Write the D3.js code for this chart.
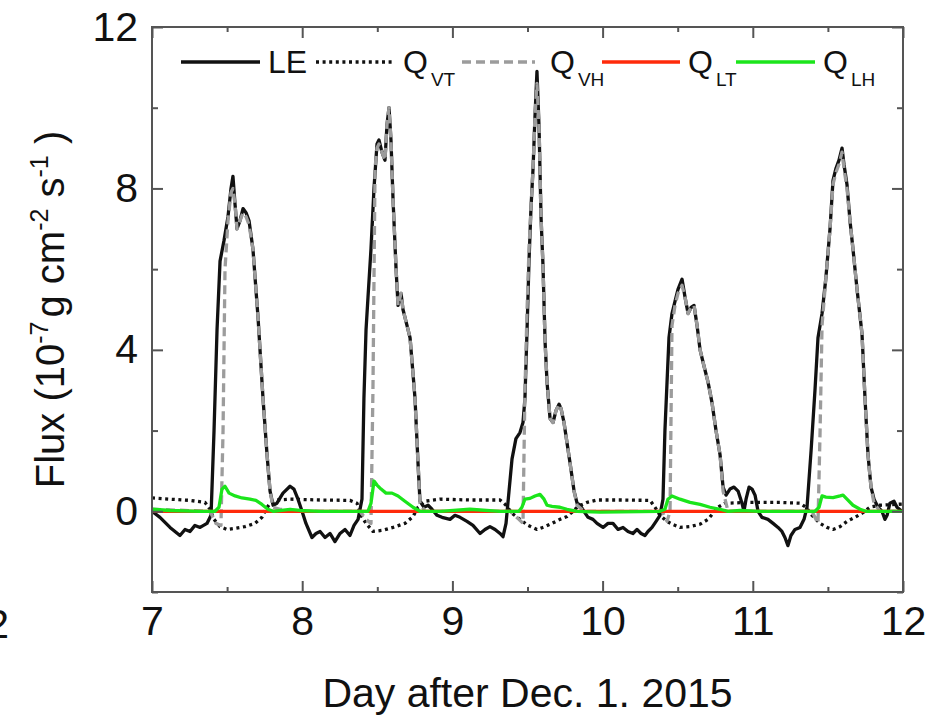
<!DOCTYPE html>
<html>
<head>
<meta charset="utf-8">
<script src="https://cdn.jsdelivr.net/npm/d3@7"></script>
<style>
body{margin:0;background:#fff}
svg{display:block;font-family:"Liberation Sans",Arial,sans-serif}
</style>
</head>
<body>
<div id="chart"></div>
<script>
// tick values
var xMajor = [7,8,9,10,11,12]
var xMinor = [7.5,8.5,9.5,10.5,11.5]
var yMajor = [0,4,8,12]
var yMinor = [-2,2,6,10]

// series: [day, flux]
var LE = [[7.000,0.0],[7.053,-0.15],[7.120,-0.4],[7.186,-0.6],[7.220,-0.45],[7.253,-0.5],[7.286,-0.35],[7.320,-0.4],
 [7.366,-0.3],[7.393,-0.1],[7.413,2.0],[7.433,4.5],[7.453,6.2],[7.479,6.7],[7.506,7.3],[7.526,8.0],[7.539,8.3],
 [7.553,7.6],[7.566,7.0],[7.586,7.2],[7.606,7.5],[7.626,7.4],[7.646,7.2],[7.672,6.5],[7.706,4.8],[7.739,2.8],
 [7.766,1.4],[7.786,0.5],[7.806,0.15],[7.832,0.2],[7.872,0.45],[7.919,0.62],[7.945,0.55],[7.972,0.3],[7.999,0.0],
 [8.025,-0.3],[8.065,-0.65],[8.092,-0.55],[8.119,-0.5],[8.152,-0.65],[8.185,-0.55],[8.218,-0.75],[8.252,-0.55],
 [8.285,-0.45],[8.318,-0.6],[8.345,-0.35],[8.372,-0.2],[8.398,0.3],[8.411,2.8],[8.425,4.5],[8.438,5.3],[8.458,6.5],
 [8.478,8.0],[8.498,9.1],[8.511,9.2],[8.531,8.9],[8.551,8.7],[8.565,9.6],[8.578,10.0],[8.591,9.2],[8.605,7.7],
 [8.625,6.0],[8.638,5.1],[8.658,5.4],[8.671,5.0],[8.698,4.6],[8.718,4.3],[8.738,3.4],[8.751,2.8],[8.771,1.2],
 [8.784,0.25],[8.811,0.1],[8.838,0.15],[8.864,0.05],[8.898,-0.1],[8.931,-0.15],[8.984,-0.2],[9.017,-0.1],
 [9.051,-0.15],[9.097,-0.25],[9.137,-0.35],[9.184,-0.55],[9.217,-0.45],[9.250,-0.38],[9.284,-0.45],[9.317,-0.55],
 [9.337,-0.63],[9.357,-0.3],[9.377,0.5],[9.397,1.3],[9.423,1.8],[9.450,1.95],[9.470,2.2],[9.483,2.8],[9.497,4.5],
 [9.510,6.2],[9.523,7.5],[9.537,8.5],[9.550,9.8],[9.563,10.9],[9.577,9.5],[9.590,7.3],[9.603,6.1],[9.617,4.2],
 [9.630,3.2],[9.650,2.3],[9.670,2.2],[9.690,2.5],[9.710,2.65],[9.723,2.55],[9.743,2.2],[9.763,1.7],[9.783,1.2],
 [9.810,0.5],[9.830,0.2],[9.850,0.15],[9.876,0.0],[9.903,-0.15],[9.936,-0.2],[9.963,-0.3],[10.003,-0.4],
 [10.036,-0.3],[10.069,-0.3],[10.103,-0.45],[10.136,-0.4],[10.169,-0.5],[10.202,-0.55],[10.229,-0.45],
 [10.256,-0.55],[10.282,-0.6],[10.302,-0.5],[10.329,-0.4],[10.356,-0.25],[10.382,-0.1],[10.402,0.3],[10.415,2.0],
 [10.429,3.2],[10.442,4.3],[10.462,4.9],[10.482,5.2],[10.502,5.5],[10.529,5.75],[10.549,5.3],[10.569,4.9],
 [10.589,5.05],[10.609,5.1],[10.629,4.6],[10.649,4.0],[10.675,3.6],[10.702,3.2],[10.728,2.7],[10.755,2.0],
 [10.782,1.4],[10.802,0.6],[10.822,0.4],[10.848,0.55],[10.875,0.6],[10.902,0.5],[10.928,0.2],[10.941,0.0],
 [10.955,0.3],[10.975,0.6],[10.995,0.55],[11.015,0.4],[11.035,0.0],[11.061,-0.15],[11.101,-0.2],[11.135,-0.3],
 [11.168,-0.4],[11.194,-0.5],[11.214,-0.65],[11.234,-0.85],[11.254,-0.6],[11.281,-0.45],[11.314,-0.4],
 [11.341,-0.2],[11.361,0.1],[11.388,1.5],[11.414,3.0],[11.434,4.3],[11.461,4.9],[11.487,5.8],[11.514,7.0],
 [11.534,8.2],[11.554,8.5],[11.574,8.7],[11.594,9.0],[11.607,8.6],[11.627,8.1],[11.647,7.2],[11.667,6.5],
 [11.694,5.5],[11.727,4.4],[11.747,2.8],[11.767,1.4],[11.787,0.6],[11.807,0.3],[11.834,0.1],[11.860,0.0],
 [11.880,-0.2],[11.894,-0.1],[11.913,0.2],[11.940,0.25],[11.960,0.1],[11.993,0.0]]

var QVT = [[7.000,0.33],[7.120,0.3],[7.253,0.27],[7.353,0.22],[7.386,0.05],[7.413,-0.2],[7.453,-0.38],[7.499,-0.45],
 [7.553,-0.42],[7.619,-0.38],[7.686,-0.3],[7.732,-0.15],[7.759,0.05],[7.786,0.2],[7.826,0.28],[7.919,0.3],
 [8.119,0.28],[8.318,0.27],[8.365,0.2],[8.391,-0.1],[8.425,-0.3],[8.471,-0.5],[8.538,-0.47],[8.605,-0.4],
 [8.684,-0.3],[8.738,-0.13],[8.771,0.1],[8.818,0.25],[8.917,0.3],[9.117,0.28],[9.317,0.28],[9.357,0.15],
 [9.397,-0.05],[9.450,-0.2],[9.503,-0.35],[9.563,-0.45],[9.617,-0.38],[9.663,-0.3],[9.716,-0.2],[9.763,-0.13],
 [9.803,0.0],[9.836,0.12],[9.896,0.22],[9.963,0.28],[10.116,0.28],[10.316,0.27],[10.349,0.1],[10.382,-0.1],
 [10.429,-0.25],[10.469,-0.33],[10.515,-0.4],[10.582,-0.38],[10.649,-0.32],[10.702,-0.2],[10.735,-0.05],
 [10.768,0.1],[10.815,0.2],[10.981,0.22],[11.181,0.22],[11.314,0.2],[11.354,0.1],[11.394,-0.1],[11.448,-0.3],
 [11.494,-0.4],[11.534,-0.45],[11.581,-0.38],[11.627,-0.25],[11.680,-0.15],[11.727,-0.05],[11.780,0.1],
 [11.847,0.15],[12.000,0.18]]

var QVH = [[7.000,0.05],[7.386,0.0],[7.426,-0.3],[7.459,-0.35],[7.473,2.0],[7.486,6.0],[7.506,7.2],[7.526,7.9],
 [7.539,8.0],[7.553,7.6],[7.566,7.0],[7.586,7.2],[7.606,7.4],[7.626,7.3],[7.646,7.1],[7.672,6.5],[7.706,4.8],
 [7.739,2.8],[7.766,1.4],[7.786,0.5],[7.806,0.1],[7.852,0.05],[7.985,0.0],[8.385,0.0],[8.425,-0.2],[8.458,-0.3],
 [8.471,3.0],[8.485,8.5],[8.498,9.0],[8.511,9.1],[8.531,8.9],[8.551,8.7],[8.565,9.6],[8.578,10.0],[8.591,9.2],
 [8.605,7.7],[8.625,6.0],[8.638,5.1],[8.658,5.4],[8.671,5.0],[8.698,4.6],[8.718,4.3],[8.738,3.4],[8.751,2.8],
 [8.771,1.2],[8.784,0.2],[8.817,0.0],[9.384,0.0],[9.443,-0.2],[9.470,-0.3],[9.483,3.0],[9.497,5.0],[9.510,6.5],
 [9.523,7.5],[9.537,8.5],[9.550,9.8],[9.563,10.6],[9.577,9.5],[9.590,7.3],[9.603,6.1],[9.617,4.2],[9.630,3.2],
 [9.650,2.3],[9.670,2.2],[9.690,2.5],[9.710,2.65],[9.723,2.55],[9.743,2.2],[9.763,1.7],[9.783,1.2],[9.810,0.5],
 [9.830,0.15],[9.876,0.0],[10.396,0.0],[10.429,-0.25],[10.449,0.0],[10.462,4.6],[10.482,5.1],[10.502,5.4],
 [10.529,5.6],[10.549,5.3],[10.569,4.9],[10.589,5.05],[10.609,5.1],[10.629,4.6],[10.649,4.0],[10.675,3.6],
 [10.702,3.2],[10.728,2.7],[10.755,2.0],[10.782,1.4],[10.802,0.5],[10.835,0.0],[11.394,0.0],[11.434,-0.3],
 [11.448,2.0],[11.461,4.6],[11.487,5.8],[11.514,7.0],[11.534,8.1],[11.554,8.4],[11.574,8.6],[11.594,8.9],
 [11.607,8.5],[11.627,8.0],[11.647,7.2],[11.667,6.5],[11.694,5.5],[11.727,4.4],[11.747,2.8],[11.767,1.4],
 [11.787,0.6],[11.807,0.2],[11.847,0.0],[12.000,0.0]]

var QLT = [[7.000,0.0],[12.000,0.0]]

var QLH = [[7.000,0.05],[7.120,0.02],[7.320,0.0],[7.419,0.0],[7.446,0.1],[7.466,0.55],[7.486,0.62],[7.513,0.45],
 [7.553,0.38],[7.599,0.33],[7.652,0.3],[7.692,0.27],[7.732,0.17],[7.772,0.05],[7.806,0.0],[7.919,0.05],
 [7.985,0.02],[8.119,0.0],[8.438,0.0],[8.458,0.2],[8.478,0.75],[8.498,0.65],[8.525,0.55],[8.558,0.45],
 [8.598,0.45],[8.638,0.38],[8.684,0.25],[8.738,0.1],[8.784,0.0],[8.917,0.0],[9.117,0.05],[9.317,0.0],
 [9.443,0.0],[9.463,0.1],[9.483,0.3],[9.517,0.32],[9.550,0.38],[9.583,0.42],[9.610,0.3],[9.630,0.15],
 [9.663,0.12],[9.716,0.1],[9.763,0.05],[9.830,0.0],[9.983,-0.02],[10.382,0.0],[10.415,0.05],[10.435,0.3],
 [10.462,0.38],[10.515,0.3],[10.582,0.22],[10.649,0.17],[10.715,0.1],[10.782,0.05],[10.835,0.0],[10.915,0.02],
 [11.048,0.0],[11.414,0.0],[11.441,0.1],[11.461,0.38],[11.487,0.35],[11.534,0.34],[11.581,0.38],[11.601,0.4],
 [11.627,0.3],[11.667,0.15],[11.714,0.05],[11.754,0.0],[12.000,0.0]]

var seriesNames = ["LE","QVT","QVH","QLT","QLH"]

var width = 936, height = 718
// note: "top" is taken by window.top, so plot edges get a prefix
var plotL = 152, plotR = 903, plotT = 27, plotB = 592

var svg = d3.select("#chart").append("svg")
	.attr("width",width).attr("height",height)

var x = d3.scaleLinear().domain([7,12]).range([plotL,plotR])
var y = d3.scaleLinear().domain([-2,12]).range([plotB,plotT])

var styles = {
	LE:{color:"#111",dash:null,w:3.3},
	QVT:{color:"#111",dash:"3,3.6",w:3.3},
	QVH:{color:"#9c9c9c",dash:"9,5",w:3.3},
	QLT:{color:"#ff2a0a",dash:null,w:3.3},
	QLH:{color:"#1be51b",dash:null,w:3.3}
}
var data = {LE:LE,QVT:QVT,QVH:QVH,QLT:QLT,QLH:QLH}

// lines
var line = d3.line().x(function(d){return x(d[0])}).y(function(d){return y(d[1])})
svg.append("clipPath").attr("id","clip").append("rect")
	.attr("x",plotL).attr("y",plotT).attr("width",plotR-plotL).attr("height",plotB-plotT)
var lines = svg.append("g").attr("clip-path","url(#clip)")
for(var s in seriesNames){
	var name = seriesNames[s]
	lines.append("path")
		.datum(data[name])
		.attr("d",line)
		.attr("fill","none")
		.attr("stroke",styles[name].color)
		.attr("stroke-width",styles[name].w)
		.attr("stroke-dasharray",styles[name].dash)
		.attr("stroke-linejoin","round")
}

// axes, ticks all point inward
var tickCol = "#555"
function styleAxis(g){
	g.select(".domain").remove()
	g.selectAll("line").attr("stroke",tickCol).attr("stroke-width",2)
	g.selectAll("text").attr("fill","#111").attr("font-size",41)
		.attr("font-family","'Liberation Sans',Arial,sans-serif")
}
svg.append("g").attr("transform","translate(0,"+plotB+")")
	.call(d3.axisBottom(x).tickValues(xMajor).tickSize(-11).tickPadding(14).tickFormat(d3.format("d")))
	.call(styleAxis)
svg.append("g").attr("transform","translate(0,"+plotB+")")
	.call(d3.axisBottom(x).tickValues(xMinor).tickSize(-5).tickFormat(""))
	.call(styleAxis)
svg.append("g").attr("transform","translate(0,"+plotT+")")
	.call(d3.axisTop(x).tickValues(xMajor).tickSize(-11).tickFormat(""))
	.call(styleAxis)
svg.append("g").attr("transform","translate(0,"+plotT+")")
	.call(d3.axisTop(x).tickValues(xMinor).tickSize(-5).tickFormat(""))
	.call(styleAxis)
svg.append("g").attr("transform","translate("+plotL+",0)")
	.call(d3.axisLeft(y).tickValues(yMajor).tickSize(-11).tickPadding(14).tickFormat(d3.format("d")))
	.call(styleAxis)
svg.append("g").attr("transform","translate("+plotL+",0)")
	.call(d3.axisLeft(y).tickValues(yMinor).tickSize(-6).tickFormat(""))
	.call(styleAxis)
svg.append("g").attr("transform","translate("+plotR+",0)")
	.call(d3.axisRight(y).tickValues(yMajor).tickSize(-11).tickFormat(""))
	.call(styleAxis)
svg.append("g").attr("transform","translate("+plotR+",0)")
	.call(d3.axisRight(y).tickValues(yMinor).tickSize(-6).tickFormat(""))
	.call(styleAxis)

svg.append("rect").attr("x",plotL).attr("y",plotT)
	.attr("width",plotR-plotL).attr("height",plotB-plotT)
	.attr("fill","none").attr("stroke",tickCol).attr("stroke-width",2)

// neighbouring panel's tick label peeking in at the left edge
svg.append("text").attr("x",9).attr("y",638).attr("text-anchor","end")
	.attr("font-size",41).attr("fill","#111").text("12")

// axis titles
svg.append("text").attr("x",(plotL+plotR)/2).attr("y",707)
	.attr("text-anchor","middle").attr("font-size",41).attr("fill","#111")
	.text("Day after Dec. 1. 2015")

var yt = svg.append("text").attr("transform","translate(64,"+((plotT+plotB)/2)+") rotate(-90)")
	.attr("text-anchor","middle").attr("font-size",40).attr("fill","#111")
yt.append("tspan").text("Flux (10")
yt.append("tspan").attr("font-size",25).attr("dy",-16).text("-7")
yt.append("tspan").attr("dy",16).attr("dx",4).text("g cm")
yt.append("tspan").attr("font-size",25).attr("dy",-16).text("-2")
yt.append("tspan").attr("dy",16).text(" s")
yt.append("tspan").attr("font-size",25).attr("dy",-16).text("-1")
yt.append("tspan").attr("dy",16).text(" )")

// legend
var legend = [
	{key:"LE",x1:181,x2:260,tx:268,main:"LE",sub:""},
	{key:"QVT",x1:316,x2:392,tx:403,main:"Q",sub:"VT"},
	{key:"QVH",x1:462,x2:535,tx:550,main:"Q",sub:"VH"},
	{key:"QLT",x1:602,x2:680,tx:688,main:"Q",sub:"LT"},
	{key:"QLH",x1:736,x2:815,tx:823,main:"Q",sub:"LH"}
]
var lg = svg.append("g")
legend.forEach(function(d){
	lg.append("line").attr("x1",d.x1).attr("x2",d.x2).attr("y1",62).attr("y2",62)
		.attr("stroke",styles[d.key].color).attr("stroke-width",styles[d.key].w)
		.attr("stroke-dasharray",styles[d.key].dash)
	var t = lg.append("text").attr("x",d.tx).attr("y",73).attr("font-size",32).attr("fill","#111")
	t.append("tspan").text(d.main)
	if(d.sub){
		t.append("tspan").attr("font-size",19).attr("dx",3).attr("dy",13).text(d.sub)
	}
})
</script>
</body>
</html>
